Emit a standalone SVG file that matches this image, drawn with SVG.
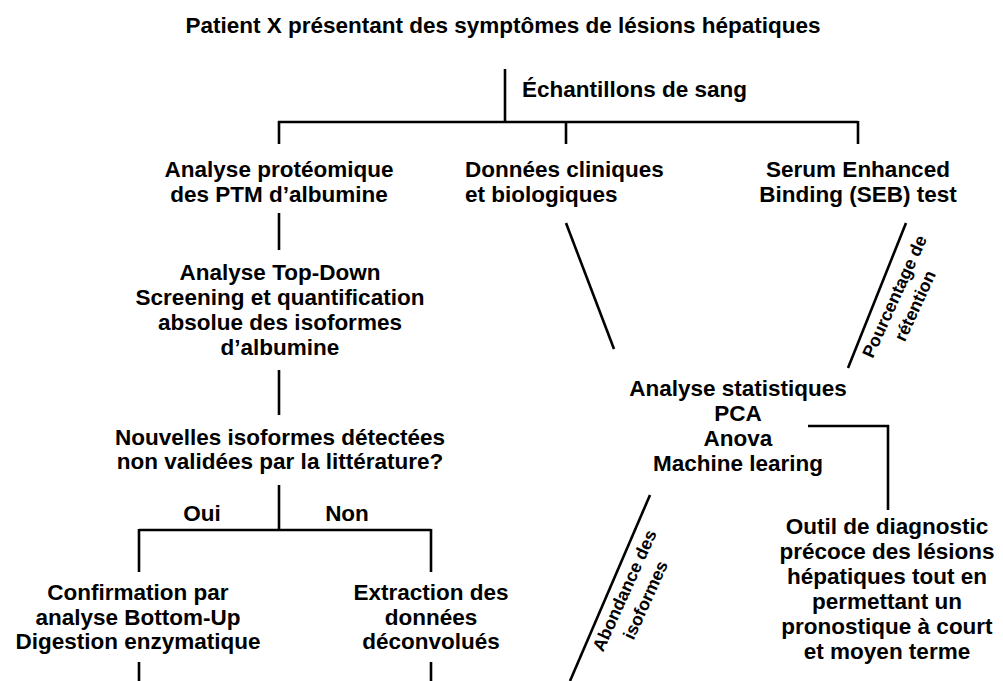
<svg xmlns="http://www.w3.org/2000/svg" width="1003" height="681" viewBox="0 0 1003 681">
<style>
text{font-family:"Liberation Sans",Arial,sans-serif;font-weight:bold;font-size:22.5px;fill:#000}
.m{text-anchor:middle}
.s{text-anchor:start}
.r{font-size:17.6px}
.c line{stroke:#000;stroke-width:2.6;stroke-linecap:butt}
</style>
<rect width="1003" height="681" fill="#fff"/>
<g class="c" id="connectors">
<line x1="505" y1="69" x2="505" y2="123"/>
<line x1="278" y1="122" x2="858" y2="122"/>
<line x1="279" y1="121" x2="279" y2="144"/>
<line x1="566" y1="121" x2="566" y2="144"/>
<line x1="858" y1="121" x2="858" y2="144"/>
<line x1="279" y1="213" x2="279" y2="250"/>
<line x1="279" y1="370" x2="279" y2="415"/>
<line x1="279" y1="485" x2="279" y2="531"/>
<line x1="139" y1="530" x2="431" y2="530"/>
<line x1="139" y1="529" x2="139" y2="572"/>
<line x1="431" y1="529" x2="431" y2="572"/>
<line x1="139" y1="662" x2="139" y2="681"/>
<line x1="431" y1="662" x2="431" y2="681"/>
<line x1="566" y1="223" x2="614" y2="349"/>
<line x1="906" y1="223" x2="848" y2="368"/>
<line x1="808" y1="426" x2="889" y2="426"/>
<line x1="888" y1="425" x2="888" y2="510"/>
<line x1="650" y1="495" x2="570" y2="681"/>
</g>
<g id="title"><text class="m" x="503" y="33">Patient X présentant des symptômes de lésions hépatiques</text></g>
<g id="sang"><text class="s" x="522" y="97">Échantillons de sang</text></g>
<g id="proteomique"><text class="m" x="279" y="177">Analyse protéomique</text><text class="m" x="279" y="202">des PTM d’albumine</text></g>
<g id="cliniques"><text class="s" x="465" y="177">Données cliniques</text><text class="s" x="465" y="202">et biologiques</text></g>
<g id="seb"><text class="m" x="858" y="177">Serum Enhanced</text><text class="m" x="858" y="202">Binding (SEB) test</text></g>
<g id="topdown"><text class="m" x="280" y="280">Analyse Top-Down</text><text class="m" x="280" y="305">Screening et quantification</text><text class="m" x="280" y="330">absolue des isoformes</text><text class="m" x="280" y="355">d’albumine</text></g>
<g id="nouvelles"><text class="m" x="280" y="445">Nouvelles isoformes détectées</text><text class="m" x="280" y="469">non validées par la littérature?</text></g>
<g id="oui"><text class="m" x="202" y="521">Oui</text></g>
<g id="non"><text class="m" x="347" y="521">Non</text></g>
<g id="bottomup"><text class="m" x="138" y="600">Confirmation par</text><text class="m" x="138" y="625">analyse Bottom-Up</text><text class="m" x="138" y="649">Digestion enzymatique</text></g>
<g id="extraction"><text class="m" x="431" y="600">Extraction des</text><text class="m" x="431" y="625">données</text><text class="m" x="431" y="649">déconvolués</text></g>
<g id="stats"><text class="m" x="738" y="396">Analyse statistiques</text><text class="m" x="738" y="421">PCA</text><text class="m" x="738" y="446">Anova</text><text class="m" x="738" y="471">Machine learing</text></g>
<g id="outil"><text class="m" x="887" y="534">Outil de diagnostic</text><text class="m" x="887" y="559">précoce des lésions</text><text class="m" x="887" y="584">hépatiques tout en</text><text class="m" x="887" y="609">permettant un</text><text class="m" x="887" y="634">pronostique à court</text><text class="m" x="887" y="659">et moyen terme</text></g>
<g id="label-retention" transform="translate(900,299) rotate(-65.5)"><text class="m r" x="0" y="0">Pourcentage de</text><text class="m r" x="0" y="22.5">rétention</text></g>
<g id="label-abondance" transform="translate(630,593) rotate(-65.6)"><text class="m r" x="0" y="0">Abondance des</text><text class="m r" x="0" y="23">isoformes</text></g>
</svg>
